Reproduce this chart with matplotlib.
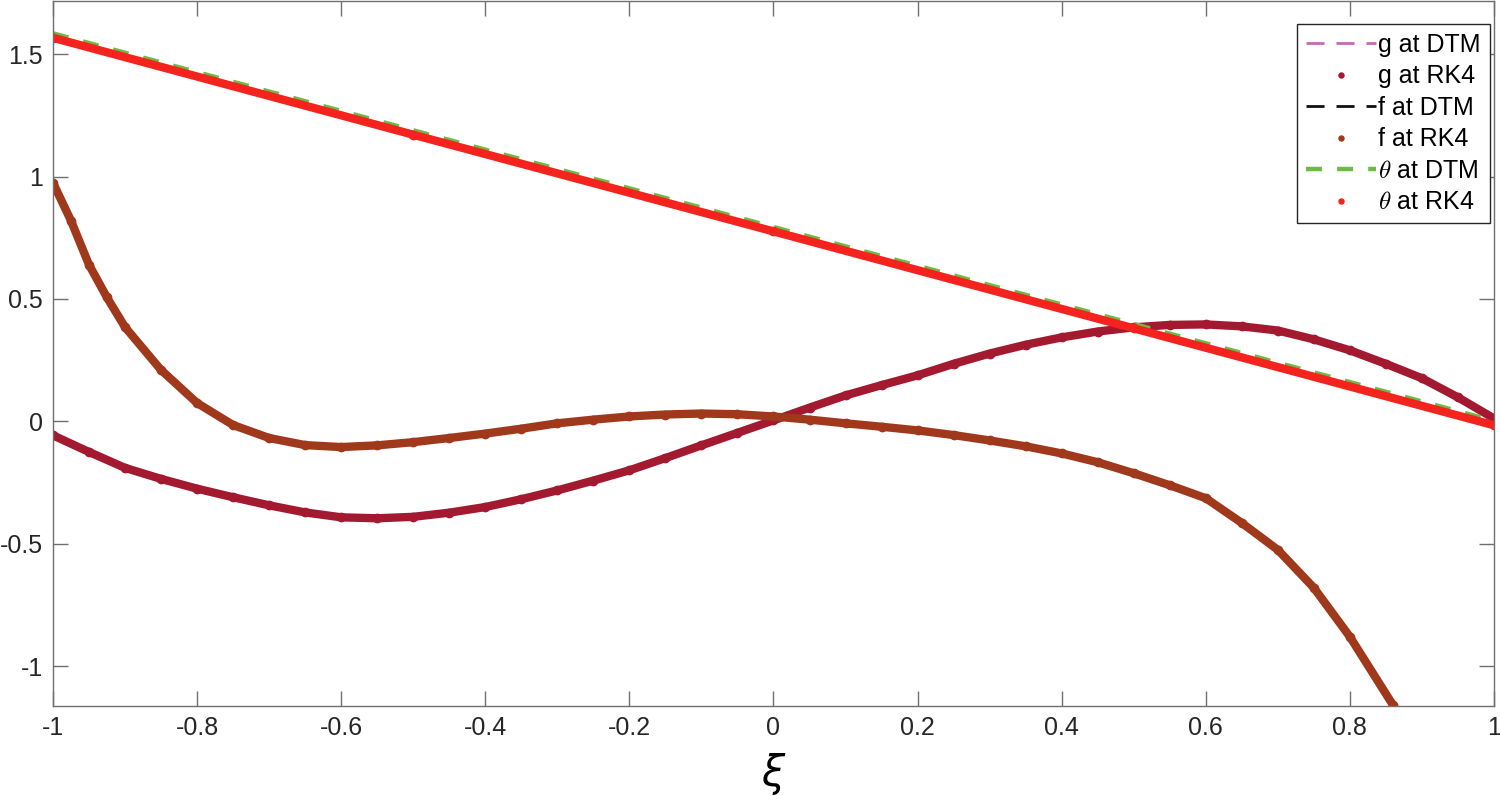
import numpy as np
from matplotlib import pyplot as plt

plt.rcParams['font.family'] = ['Liberation Sans', 'DejaVu Sans']
plt.rcParams['mathtext.fontset'] = 'cm'

# values
xi_f = [-1, -0.975, -0.95, -0.925, -0.9, -0.85, -0.8, -0.75, -0.7, -0.65, -0.6,
        -0.55, -0.5, -0.45, -0.4, -0.35, -0.3, -0.25, -0.2, -0.15, -0.1, -0.05,
        0, 0.05, 0.1, 0.15, 0.2, 0.25, 0.3, 0.35, 0.4, 0.45, 0.5, 0.55, 0.6,
        0.65, 0.7, 0.75, 0.8, 0.86]
f_val = [0.975, 0.82, 0.64, 0.506, 0.385, 0.21, 0.075, -0.015, -0.068, -0.097, -0.105,
         -0.098, -0.085, -0.068, -0.05, -0.03, -0.008, 0.007, 0.02, 0.028, 0.032, 0.029,
         0.02, 0.007, -0.008, -0.022, -0.037, -0.056, -0.078, -0.102, -0.131, -0.167,
         -0.212, -0.261, -0.314, -0.415, -0.525, -0.68, -0.88, -1.16]

xi_g = [-1, -0.95, -0.9, -0.85, -0.8, -0.75, -0.7, -0.65, -0.6, -0.55, -0.5,
        -0.45, -0.4, -0.35, -0.3, -0.25, -0.2, -0.15, -0.1, -0.05, 0, 0.05,
        0.1, 0.15, 0.2, 0.25, 0.3, 0.35, 0.4, 0.45, 0.5, 0.55, 0.6, 0.65,
        0.7, 0.75, 0.8, 0.85, 0.9, 0.95, 1]
g_val = [-0.057, -0.125, -0.19, -0.235, -0.275, -0.31, -0.343, -0.372, -0.392, -0.396, -0.39,
         -0.373, -0.35, -0.318, -0.282, -0.242, -0.2, -0.15, -0.098, -0.047, 0.004, 0.056,
         0.106, 0.148, 0.188, 0.235, 0.277, 0.313, 0.343, 0.367, 0.384, 0.394, 0.396, 0.388,
         0.371, 0.335, 0.29, 0.235, 0.176, 0.098, 0.012]

xi_t = [-1, -0.5, 0, 0.5, 1]
theta_rk = [1.567, 1.171, 0.776, 0.38, -0.016]
theta_dtm = [1.585, 1.189, 0.794, 0.398, 0.002]

xticks = [-1, -0.8, -0.6, -0.4, -0.2, 0, 0.2, 0.4, 0.6, 0.8, 1]
xtick_labels = ['-1', '-0.8', '-0.6', '-0.4', '-0.2', '0', '0.2', '0.4', '0.6', '0.8', '1']
yticks = [-1, -0.5, 0, 0.5, 1, 1.5]
ytick_labels = ['-1', '-0.5', '0', '0.5', '1', '1.5']

c_gd = '#c26bb0'
c_gr = '#a31a30'
c_fd = '#111111'
c_fr = '#a0391c'
c_td = '#6cbb45'
c_tr = '#f5231e'

fig = plt.figure(figsize=(15, 7.96), dpi=100)
ax = fig.add_axes([0.0353, 0.113, 0.9607, 0.886])

band = dict(lw=6, solid_capstyle='round', solid_joinstyle='round')
ax.plot(xi_g, g_val, color=c_gd, lw=2, dashes=(6.5, 4.3), label='g at DTM')
ax.plot(xi_g, g_val, '-', color=c_gr, **band)
ax.plot(xi_g, g_val, 'o', color=c_gr, ms=6, label='g at RK4')
ax.plot(xi_f, f_val, color=c_fd, lw=2, dashes=(6.5, 4.3), label='f at DTM')
ax.plot(xi_f, f_val, '-', color=c_fr, **band)
ax.plot(xi_f, f_val, 'o', color=c_fr, ms=6, label='f at RK4')
ax.plot(xi_t, theta_dtm, color=c_td, lw=3.2, dashes=(3.6, 3.4), label=r'$\theta$ at DTM')
ax.plot(xi_t, theta_rk, '-', color=c_tr, **band)
ax.plot(xi_t, theta_rk, 'o', color=c_tr, ms=6, label=r'$\theta$ at RK4')

ax.set_xlim(-1, 1)
ax.set_ylim(-1.163, 1.718)
ax.set_xticks(xticks)
ax.set_xticklabels(xtick_labels)
ax.set_yticks(yticks)
ax.set_yticklabels(ytick_labels)
ax.tick_params(direction='in', length=10.5, width=1, colors='#707070',
               labelcolor='#262626', labelsize=18, pad=7, top=True, right=True)
for s in ax.spines.values():
    s.set_color('#707070')
    s.set_linewidth(1)

ax.set_xlabel(r'$\xi$', fontsize=30, labelpad=8, math_fontfamily='dejavusans')

leg = ax.legend(loc='upper right', bbox_to_anchor=(0.997, 0.967), fontsize=18,
                frameon=True, fancybox=False, framealpha=1, edgecolor='#262626',
                handlelength=2.8, handletextpad=0.1, labelspacing=0.3,
                borderpad=0.35, markerscale=0.6, borderaxespad=0)
leg.get_frame().set_linewidth(1)

plt.savefig('out.png', dpi=100)
